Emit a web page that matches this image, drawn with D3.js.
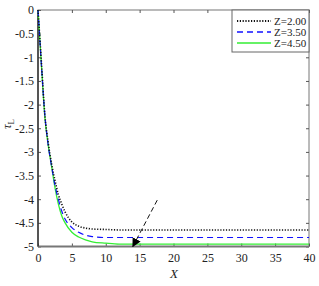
<!DOCTYPE html>
<html>
<head>
<meta charset="utf-8">
<script src="https://cdn.jsdelivr.net/npm/d3@7"></script>
<style>
  body { margin: 0; background: #fff; }
  svg text { font-family: "Liberation Serif", "DejaVu Serif", serif !important; fill: #222; }
</style>
</head>
<body>
<svg id="chart" width="319" height="286"></svg>
<script>
// values
var xs = [0, 0.5, 1, 1.5, 2, 2.5, 3, 3.5, 4, 5, 6, 7, 8, 10, 12, 15, 20, 40];
var tauZ200 = [0, -1.1, -2.2, -2.8, -3.25, -3.6, -3.9, -4.1, -4.27, -4.48, -4.57, -4.61, -4.63, -4.64, -4.65, -4.65, -4.65, -4.65];
var tauZ350 = [0, -1.15, -2.2, -2.85, -3.3, -3.7, -4.0, -4.25, -4.42, -4.6, -4.7, -4.76, -4.79, -4.81, -4.81, -4.81, -4.81, -4.81];
var tauZ450 = [0, -1.15, -2.25, -2.85, -3.3, -3.75, -4.1, -4.35, -4.5, -4.7, -4.8, -4.86, -4.9, -4.93, -4.95, -4.95, -4.95, -4.95];
var seriesNames = ["Z=2.00", "Z=3.50", "Z=4.50"];
var xTicks = [0, 5, 10, 15, 20, 25, 30, 35, 40];
var yTicks = [0, -0.5, -1, -1.5, -2, -2.5, -3, -3.5, -4, -4.5, -5];
var arrowFrom = [17.6, -4.02];
var arrowTo = [14.0, -5];

var svg = d3.select("#chart");
var pLeft = 38, pRight = 309, pTop = 10, pBottom = 246.5;

var x = d3.scaleLinear().domain([0, 40]).range([pLeft, pRight]);
var y = d3.scaleLinear().domain([-5, 0]).range([pBottom, pTop]);

// frame
svg.append("rect")
    .attr("x", pLeft).attr("y", pTop)
    .attr("width", pRight - pLeft).attr("height", pBottom - pTop)
    .attr("fill", "none").attr("stroke", "#777").attr("stroke-width", 1);

// axes, ticks pointing inward
var xAxis = svg.append("g").attr("transform", "translate(0," + pBottom + ")")
    .call(d3.axisBottom(x).tickValues(xTicks).tickSize(-3).tickPadding(7).tickFormat(d3.format("d")));
var yAxis = svg.append("g").attr("transform", "translate(" + pLeft + ",0)")
    .call(d3.axisLeft(y).tickValues(yTicks).tickSize(-3).tickPadding(4).tickFormat(function (d) { return String(d); }));
var xTop = svg.append("g").attr("transform", "translate(0," + pTop + ")")
    .call(d3.axisTop(x).tickValues(xTicks).tickSize(-3).tickFormat(""));
var yRight = svg.append("g").attr("transform", "translate(" + pRight + ",0)")
    .call(d3.axisRight(y).tickValues(yTicks).tickSize(-3).tickFormat(""));

[xAxis, yAxis, xTop, yRight].forEach(function (g) {
    g.attr("font-family", "Liberation Serif");
    g.select(".domain").remove();
    g.selectAll(".tick line").attr("stroke", "#555");
    g.selectAll("text").attr("font-size", 12).attr("fill", "#222");
});
svg.append("line").attr("x1", pLeft).attr("x2", pRight).attr("y1", pBottom).attr("y2", pBottom)
    .attr("stroke", "#777").attr("stroke-width", 2);
svg.append("line").attr("x1", pLeft).attr("x2", pLeft).attr("y1", pTop).attr("y2", pBottom)
    .attr("stroke", "#333").attr("stroke-width", 1.5);

// curves
var series = [
    { name: seriesNames[0], vals: tauZ200, color: "#111", dash: "1.2,1.6", width: 1.6 },
    { name: seriesNames[1], vals: tauZ350, color: "#1010ff", dash: "6,4", width: 1.2 },
    { name: seriesNames[2], vals: tauZ450, color: "#33ee33", dash: null, width: 1.3 }
];

var line = d3.line()
    .x(function (d) { return x(d[0]); })
    .y(function (d) { return y(d[1]); })
    .curve(d3.curveMonotoneX);

series.slice().reverse().forEach(function (s) {
    svg.append("path")
        .datum(xs.map(function (v, i) { return [v, s.vals[i]]; }))
        .attr("d", line)
        .attr("fill", "none")
        .attr("stroke", s.color)
        .attr("stroke-width", s.width)
        .attr("stroke-dasharray", s.dash);
});

// arrow annotation
svg.append("defs").append("marker")
    .attr("id", "head").attr("viewBox", "0 0 10 10")
    .attr("refX", 9).attr("refY", 5)
    .attr("markerWidth", 9).attr("markerHeight", 9)
    .attr("markerUnits", "userSpaceOnUse")
    .attr("orient", "auto")
    .append("path").attr("d", "M0,0 L10,5 L0,10 z").attr("fill", "#000");

svg.append("line")
    .attr("x1", x(arrowFrom[0])).attr("y1", y(arrowFrom[1]))
    .attr("x2", x(arrowTo[0])).attr("y2", y(arrowTo[1]))
    .attr("stroke", "#111").attr("stroke-width", 1)
    .attr("stroke-dasharray", "5,3")
    .attr("marker-end", "url(#head)");

// legend
var lg = svg.append("g");
lg.append("rect").attr("x", 232).attr("y", pTop).attr("width", pRight - 232).attr("height", 42)
    .attr("fill", "#fff").attr("stroke", "#666").attr("stroke-width", 1);
series.forEach(function (s, i) {
    var yy = 21 + i * 11;
    lg.append("line").attr("x1", 237).attr("x2", 271).attr("y1", yy).attr("y2", yy)
        .attr("stroke", s.color).attr("stroke-width", s.width + 0.3)
        .attr("stroke-dasharray", s.dash);
    lg.append("text").attr("x", 274).attr("y", yy + 4)
        .attr("font-size", 11).text(s.name);
});

// axis labels
svg.append("text").attr("x", 174).attr("y", 278)
    .attr("text-anchor", "middle").attr("font-size", 13).attr("font-style", "italic")
    .text("X");
var yl = svg.append("text")
    .attr("transform", "translate(11,124) rotate(-90)")
    .attr("text-anchor", "middle").attr("font-size", 13);
yl.append("tspan").attr("font-style", "italic").text("τ");
yl.append("tspan").attr("font-size", 9).attr("dy", 3).text("L");
</script>
</body>
</html>
